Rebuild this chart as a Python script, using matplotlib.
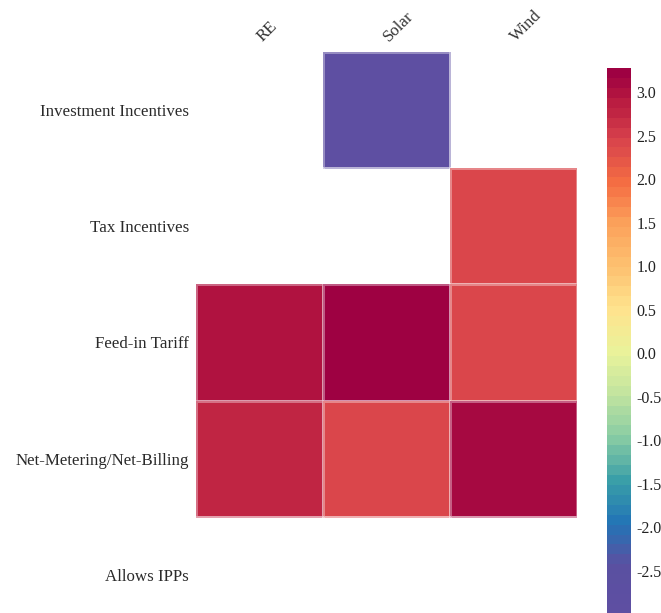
import matplotlib
matplotlib.use("Agg")
import matplotlib.pyplot as plt
from matplotlib.colors import LinearSegmentedColormap, ListedColormap, Normalize
import numpy as np

plt.rcParams.update({"font.family": ["Liberation Serif", "DejaVu Serif"], "font.size": 12.2})

# policy instruments (rows) x technology (columns); NaN = no estimate
policies = ["Investment Incentives", "Tax Incentives", "Feed-in Tariff",
            "Net-Metering/Net-Billing", "Allows IPPs"]
techs = ["RE", "Solar", "Wind"]
re_vals = [np.nan, np.nan, 3.02, 2.80, np.nan]
solar_vals = [-2.98, np.nan, 3.28, 2.45, np.nan]
wind_vals = [np.nan, 2.48, 2.45, 3.10, np.nan]
cbar_ticks = [-2.5, -2.0, -1.5, -1.0, -0.5, 0.0, 0.5, 1.0, 1.5, 2.0, 2.5, 3.0]

vals = np.ma.masked_invalid(np.column_stack([re_vals, solar_vals, wind_vals]))
vmin, vmax = -3.0, 3.28

# spectral-style scale, stops given in data units, then cut into bands
stops = [(-3.0, "#5e4fa2"), (-2.5, "#5a50a1"), (-2.0, "#2274b6"), (-1.5, "#3a9fa8"),
         (-1.0, "#88cca4"), (-0.5, "#c0e3a0"), (0.0, "#e9f39b"), (0.5, "#fee38e"),
         (1.0, "#fdc271"), (1.5, "#fca35c"), (2.0, "#f46d43"), (2.5, "#d8434c"),
         (3.0, "#b5173f"), (3.28, "#9e0142")]
smooth = LinearSegmentedColormap.from_list(
    "spec", [((v - vmin) / (vmax - vmin), c) for v, c in stops])
cmap = ListedColormap(smooth(np.linspace(0, 1, 55)))

fig = plt.figure(figsize=(6.61, 6.13), dpi=100)
ax = fig.add_axes([0.2965, -0.0326, 0.5764, 0.9478])
mesh = ax.pcolormesh(vals, cmap=cmap, norm=Normalize(vmin, vmax),
                     edgecolors=(1, 1, 1, 0.35), linewidth=1.0)
ax.set_xlim(0, len(techs)); ax.set_ylim(len(policies), 0)
for s in ax.spines.values():
    s.set_visible(False)

ax.set_yticks(np.arange(len(policies)) + 0.5)
ax.set_yticklabels(policies, color="#2a2a2a")
ax.xaxis.tick_top()
ax.set_xticks(np.arange(len(techs)) + 0.5)
ax.set_xticklabels(techs, rotation=45, ha="left", va="center",
                   rotation_mode="anchor", color="#333")
ax.tick_params(axis="y", length=0, pad=5)
ax.tick_params(axis="x", length=0, pad=9)

cax = fig.add_axes([607 / 661, -0.0016, 24 / 661, 0.8906])
cb = fig.colorbar(mesh, cax=cax, ticks=cbar_ticks)
cb.outline.set_visible(False)
cb.ax.tick_params(length=0, pad=4, labelsize=11.5, colors="#222")
cb.ax.set_yticklabels([f"{t:.1f}" for t in cbar_ticks])

fig.savefig("out.png", dpi=100)
